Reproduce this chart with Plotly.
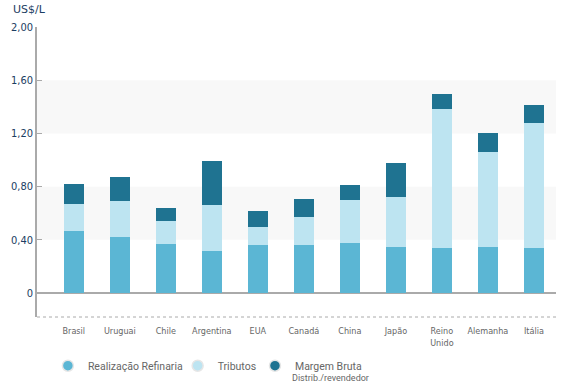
import plotly.graph_objects as go

categories = ["Brasil", "Uruguai", "Chile", "Argentina", "EUA", "Canadá", "China",
              "Japão", "Reino<br>Unido", "Alemanha", "Itália"]
realizacao = [0.47, 0.42, 0.37, 0.315, 0.36, 0.36, 0.38, 0.35, 0.34, 0.35, 0.34]
tributos = [0.20, 0.27, 0.17, 0.345, 0.14, 0.21, 0.32, 0.37, 1.04, 0.71, 0.94]
margem = [0.15, 0.18, 0.10, 0.33, 0.12, 0.14, 0.11, 0.26, 0.12, 0.14, 0.13]

series_names = ["Realização Refinaria", "Tributos", "Margem Bruta"]
margem_sub = "Distrib./revendedor"
colors = ["#5bb6d4", "#bde4f1", "#1f7391"]

ytick_vals = [0, 0.4, 0.8, 1.2, 1.6, 2.0]
ytick_text = ["0", "0,40", "0,80", "1,20", "1,60", "2,00"]

fig = go.Figure()
for vals, col in zip([realizacao, tributos, margem], colors):
    fig.add_trace(go.Bar(x=categories, y=vals, marker=dict(color=col, line=dict(width=0)),
                         width=0.435, showlegend=False))

# legend entries (circle markers), one legend per entry for placement
legend_ids = ["legend", "legend2", "legend3"]
for name, col, lid in zip(series_names, colors, legend_ids):
    fig.add_trace(go.Scatter(x=[None], y=[None], mode="markers", name=name, legend=lid,
                             marker=dict(symbol="circle", size=11, color=col,
                                         line=dict(color="#e6e6e6", width=1.5))))

# background bands
for y0, y1 in [(0.4, 0.8), (1.2, 1.6)]:
    fig.add_shape(type="rect", xref="paper", yref="y", x0=0, x1=1, y0=y0, y1=y1,
                  fillcolor="#f8f8f8", line=dict(width=0), layer="below")
# dotted bottom line
fig.add_shape(type="line", xref="paper", yref="paper", x0=0, x1=1, y0=0, y1=0,
              line=dict(color="#aaaaaa", width=1, dash="dot"))

fig.add_annotation(text="US$/L", xref="paper", yref="paper", x=-0.05, y=1.06,
                   xanchor="left", yanchor="middle", showarrow=False,
                   font=dict(family="DejaVu Sans", size=11, color="#1b3d63"))
fig.add_annotation(text=margem_sub, xref="paper", yref="paper", x=0.487, y=-0.212,
                   xanchor="left", yanchor="middle", showarrow=False,
                   font=dict(family="Roboto", size=9, color="#666666"))

leg_font = dict(family="Roboto", size=10.5, color="#666666")
leg_common = dict(orientation="h", y=-0.118, xanchor="left", yanchor="top",
                  font=leg_font, itemwidth=30, bgcolor="rgba(0,0,0,0)")

fig.update_layout(
    width=561, height=391,
    margin=dict(l=37, r=5, t=27, b=74, autoexpand=False),
    paper_bgcolor="white", plot_bgcolor="white",
    barmode="stack", bargap=0,
    showlegend=True,
    legend=dict(x=0.021, **leg_common),
    legend2=dict(x=0.271, **leg_common),
    legend3=dict(x=0.42, **leg_common),
    xaxis=dict(range=[-0.8, 10.48], showgrid=False, showline=False, ticks="",
               automargin=False, ticklabelstandoff=7,
               tickfont=dict(family="DejaVu Sans Condensed, DejaVu Sans", size=9, color="#666666")),
    yaxis=dict(range=[-0.18, 2.0], tickvals=ytick_vals, ticktext=ytick_text,
               automargin=False,
               showgrid=False, showline=True, linecolor="#aaaaaa", linewidth=1.5,
               ticks="inside", ticklen=5, tickcolor="#aaaaaa",
               zeroline=True, zerolinecolor="#aaaaaa", zerolinewidth=2,
               tickfont=dict(family="DejaVu Sans Condensed, DejaVu Sans", size=11, color="#1b3d63")),
)

fig.write_html("out.html", config={"displayModeBar": False},
               post_script="document.body.style.margin='0';document.body.style.overflow='hidden';")
